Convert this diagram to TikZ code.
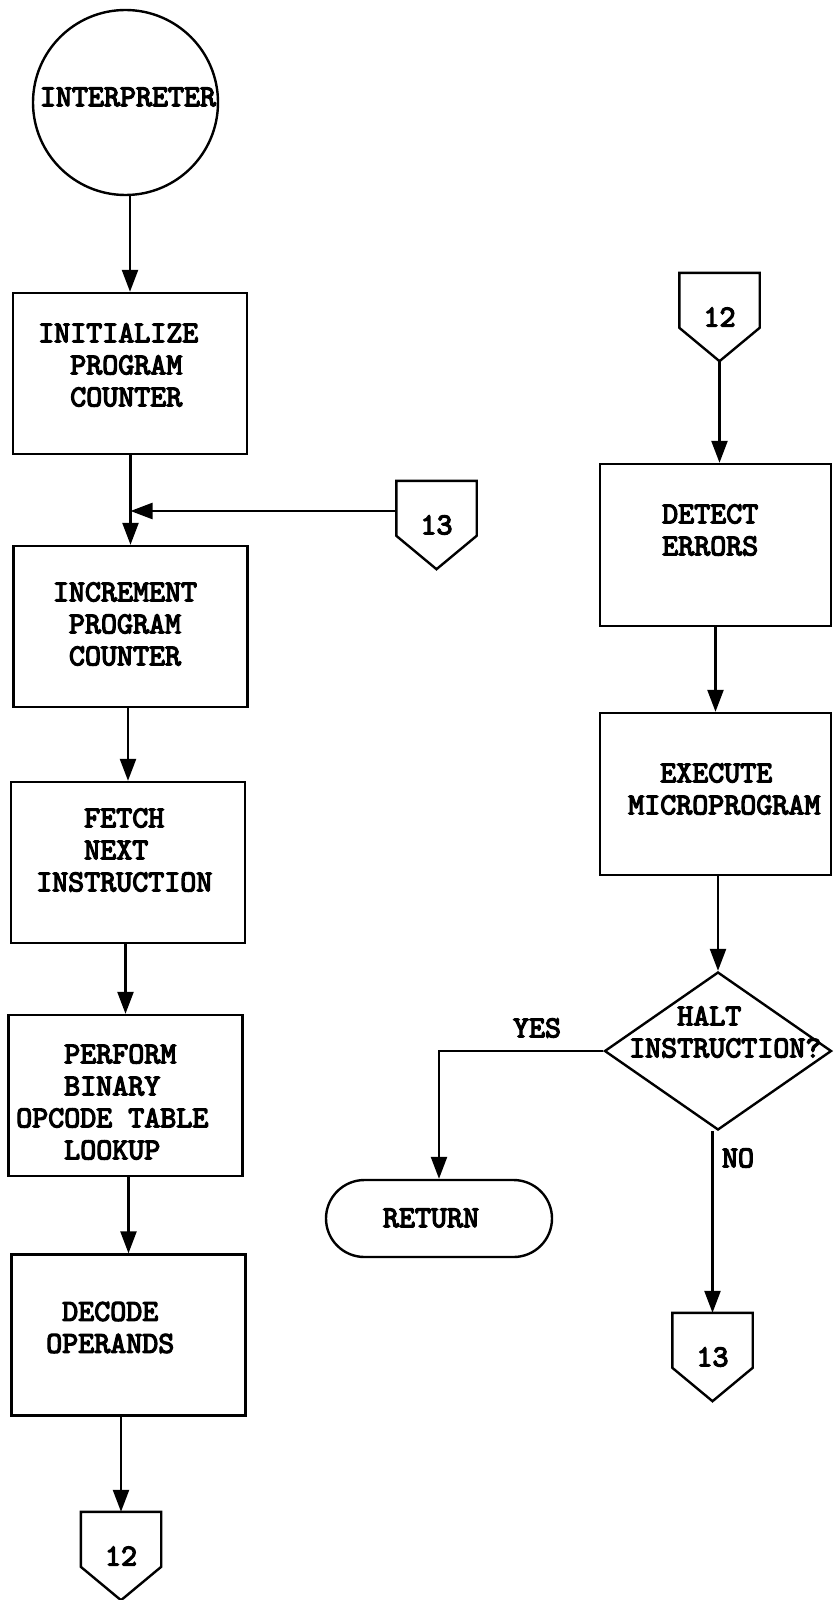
\documentclass[tikz,border=0pt]{standalone}
\usepackage{fontspec}
\newfontfamily\typew{lmmono10-regular.otf}[FakeBold=4]
\usetikzlibrary{arrows.meta,shapes.geometric,shapes.misc,calc}

\tikzset{
  line/.style={draw=black, line width=2.4pt},
  box/.style={line, rectangle, inner sep=0pt, minimum width=234pt, minimum height=161pt},
  txt/.style={font=\typew\fontsize{30.5}{32}\selectfont, inner sep=0pt, align=left},
  ctxt/.style={txt, align=center},
  arr/.style={line, -{Triangle[length=22pt,width=16pt]}},
  conn/.style={txt, minimum width=80pt, minimum height=88pt},
}
% off-page connector outline: square top, pointed bottom
\newcommand\offpageoutline[1]{%
  \draw[line] (#1.north west) -- (#1.north east) -- ($(#1.north east)+(0,55)$)
    -- (#1.south) -- ($(#1.north west)+(0,55)$) -- cycle;}

\begin{document}
\begin{tikzpicture}[x=1pt,y=-1pt]
  \fill[white] (0,0) rectangle (833,1600);
  \useasboundingbox (0,0) rectangle (833,1600);

  % ---- left column ----
  \node[line, circle, minimum size=185pt, inner sep=0pt] (start) at (125.5,102.5) {};
  \node[ctxt] (startt) at (128,97) {INTERPRETER};

  \node[box] (b1) at (130,373.5) {};
  \node[txt, anchor=west] (b1t) at (38,365) {INITIALIZE\\\phantom{XX}PROGRAM\\\phantom{XX}COUNTER};

  \node[box] (b2) at (130.5,626.5) {};
  \node[ctxt] (b2t) at (125,624) {INCREMENT\\PROGRAM\\COUNTER};

  \node[box] (b3) at (128,862.5) {};
  \node[txt, anchor=west] (b3t) at (36,850) {\phantom{XXX}FETCH\\\phantom{XXX}NEXT\\INSTRUCTION};

  \node[box] (b4) at (125.5,1095.5) {};
  \node[txt, anchor=west] (b4t) at (16,1102) {\phantom{XXX}PERFORM\\\phantom{XXX}BINARY\\OPCODE TABLE\\\phantom{XXX}LOOKUP};

  \node[box] (b5) at (128.5,1335) {};
  \node[txt, anchor=west] (b5t) at (46,1327.5) {\phantom{X}DECODE\\OPERANDS};

  \node[conn] (c12b) at (121,1556) {12};
  \offpageoutline{c12b}

  \node[conn] (c13a) at (436.5,525) {13};
  \offpageoutline{c13a}

  % ---- right column ----
  \node[conn] (c12a) at (719.5,317) {12};
  \offpageoutline{c12a}

  \node[box, minimum width=231pt, minimum height=162pt] (det) at (715.5,545) {};
  \node[txt, anchor=west] (dett) at (662,530) {DETECT\\ERRORS};

  \node[box, minimum width=231pt, minimum height=162pt] (exe) at (715.5,794) {};
  \node[txt, anchor=west] (exet) at (628,789) {\phantom{XX}EXECUTE\\MICROPROGRAM};

  \node[line, diamond, minimum width=227pt, minimum height=158pt, inner sep=0pt] (dec) at (718,1051) {};
  \node[txt, anchor=west] (dect) at (629,1032) {\phantom{XXX}HALT\\INSTRUCTION?};

  \node[line, rounded rectangle, minimum width=226pt, minimum height=77pt, inner sep=0pt] (ret) at (439,1218.5) {};
  \node[ctxt] (rett) at (431,1218) {RETURN};

  \node[conn] (c13b) at (712.5,1357) {13};
  \offpageoutline{c13b}

  % ---- connectors ----
  \draw[arr] (b1.north |- start.south) -- (b1.north);
  \draw[arr] (b2.north |- b1.south) -- (b2.north);
  \coordinate (jn) at (b2.north |- 0,511);
  \draw[arr] (c13a.west |- jn) -- (jn);
  \draw[arr] (b3.north |- b2.south) -- (b3.north);
  \draw[arr] (b4.north |- b3.south) -- (b4.north);
  \draw[arr] (b5.north |- b4.south) -- (b5.north);
  \draw[arr] (c12b.north |- b5.south) -- (c12b.north);

  \draw[arr] (c12a.south) -- (c12a.south |- det.north);
  \draw[arr] (det.south) -- (exe.north);
  \draw[arr] (dec.north |- exe.south) -- (dec.north);
  \draw[arr] (dec.west) -| (ret.north);
  \draw[arr] (c13b.north |- dec.south) -- (c13b.north);

  \node[ctxt] (yes) at (537,1028) {YES};
  \node[ctxt] (no) at (738,1158) {NO};
\end{tikzpicture}
\end{document}
